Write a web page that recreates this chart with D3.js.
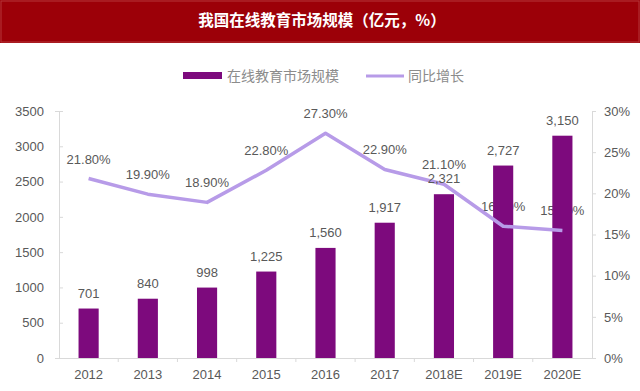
<!DOCTYPE html>
<html><head><meta charset="utf-8">
<script src="https://cdn.jsdelivr.net/npm/d3@7"></script>
<style>body{margin:0;background:#fff;}svg{display:block;}</style>
</head><body>
<svg id="c" width="640" height="391"></svg>
<script>
const categories = ["2012","2013","2014","2015","2016","2017","2018E","2019E","2020E"];
const marketSize = [701,840,998,1225,1560,1917,2321,2727,3150];
const growth = [21.8,19.9,18.9,22.8,27.3,22.9,21.1,16.0,15.5];
const growthLabels = ["21.80%","19.90%","18.90%","22.80%","27.30%","22.90%","21.10%","16.00%","15.50%"];
const leftTicks = [0,500,1000,1500,2000,2500,3000,3500];
const rightTicks = [0,5,10,15,20,25,30];
const title = "我国在线教育市场规模（亿元，%）";
const seriesNames = ["在线教育市场规模","同比增长"];

const svg = d3.select("#c");
const barColor = "#7d0a7d", lineColor = "#b79be8", txt = "#595959", axisC = "#d9d9d9";
const font = "'Liberation Sans', Arial, sans-serif";

// title bar
svg.append("rect").attr("x",0).attr("y",0).attr("width",640).attr("height",43).attr("fill","#9c0008");
svg.append("rect").attr("x",1).attr("y",1).attr("width",638).attr("height",41).attr("fill","none").attr("stroke","#b5363a").attr("stroke-width",1);
svg.append("text").attr("x",322).attr("y",26).attr("text-anchor","middle")
  .attr("font-family","'Noto Sans CJK SC', sans-serif").attr("font-weight","bold").attr("font-size",15.5)
  .attr("fill","#fff").text(title);

// legend
svg.append("rect").attr("x",183).attr("y",72).attr("width",39).attr("height",7).attr("fill",barColor);
svg.append("text").attr("x",227).attr("y",81).attr("font-family","'Noto Sans CJK SC', sans-serif")
  .attr("font-size",14).attr("fill","#8c8c8c").text(seriesNames[0]);
svg.append("line").attr("x1",366).attr("x2",404).attr("y1",76).attr("y2",76).attr("stroke",lineColor).attr("stroke-width",3);
svg.append("text").attr("x",408).attr("y",81).attr("font-family","'Noto Sans CJK SC', sans-serif")
  .attr("font-size",14).attr("fill","#8c8c8c").text(seriesNames[1]);

const x0 = 59, x1 = 592, yTop = 111, yBot = 358;
const x = d3.scaleBand().domain(categories).range([x0,x1]).paddingInner(0.66).paddingOuter(0.33);
const xStep = d3.scaleBand().domain(categories).range([x0,x1]);
const yL = d3.scaleLinear().domain([0,3500]).range([yBot,yTop]);
const yR = d3.scaleLinear().domain([0,30]).range([yBot,yTop]);

// axes
const gL = svg.append("g").attr("transform",`translate(${x0},0)`)
  .call(d3.axisLeft(yL).tickValues(leftTicks).tickSize(4).tickPadding(11).tickFormat(d3.format("d")));
const gR = svg.append("g").attr("transform",`translate(${x1},0)`)
  .call(d3.axisRight(yR).tickValues(rightTicks).tickSize(4).tickPadding(8).tickFormat(d=>d+"%"));
const gB = svg.append("g").attr("transform",`translate(0,${yBot})`)
  .call(d3.axisBottom(xStep).tickSize(0).tickPadding(12));
[gL,gR,gB].forEach(g=>{
  g.selectAll("path.domain").attr("stroke",axisC);
  g.selectAll(".tick line").attr("stroke",axisC);
  g.selectAll("text").attr("fill",txt).attr("font-family",font).attr("font-size",13);
});
gL.selectAll(".tick line").attr("x2",4);
// bottom tick marks at band boundaries
svg.append("g").selectAll("line").data(categories.slice(1)).join("line")
  .attr("x1",d=>xStep(d)).attr("x2",d=>xStep(d)).attr("y1",yBot).attr("y2",yBot+4).attr("stroke",axisC);

// line labels (behind bars)
svg.append("g").selectAll("text").data(categories).join("text")
  .attr("x",d=>xStep(d)+xStep.bandwidth()/2).attr("y",(d,i)=>yR(growth[i])-15)
  .attr("text-anchor","middle").attr("font-family",font).attr("font-size",13).attr("fill",txt)
  .text((d,i)=>growthLabels[i]);

// bars
svg.append("g").selectAll("rect").data(categories).join("rect")
  .attr("x",d=>x(d)).attr("width",x.bandwidth())
  .attr("y",(d,i)=>yL(marketSize[i])).attr("height",(d,i)=>yBot-yL(marketSize[i]))
  .attr("fill",barColor);

// line
const line = d3.line().x((d,i)=>xStep(categories[i])+xStep.bandwidth()/2).y(d=>yR(d));
svg.append("path").datum(growth).attr("d",line).attr("fill","none")
  .attr("stroke",lineColor).attr("stroke-width",3.5).attr("stroke-linejoin","round");

// bar labels
svg.append("g").selectAll("text").data(categories).join("text")
  .attr("x",d=>xStep(d)+xStep.bandwidth()/2).attr("y",(d,i)=>yL(marketSize[i])-11)
  .attr("text-anchor","middle").attr("font-family",font).attr("font-size",13).attr("fill",txt)
  .text((d,i)=>d3.format(",")(marketSize[i]));
</script>
</body></html>
